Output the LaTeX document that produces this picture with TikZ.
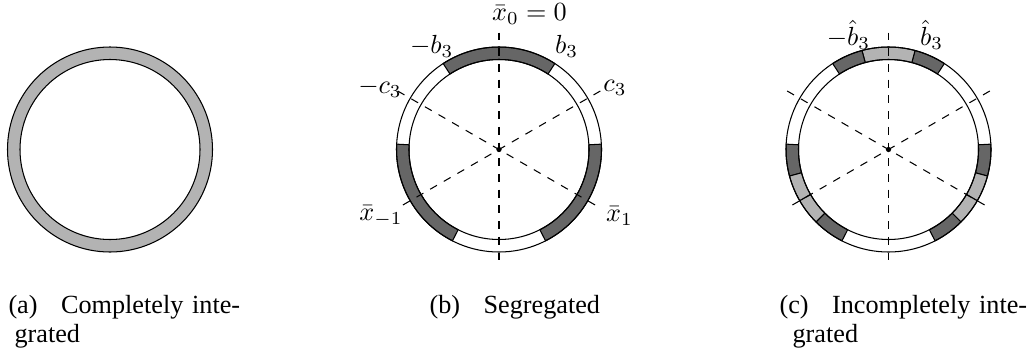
\documentclass[tikz,border=0pt]{standalone}
\usepackage{fontspec}
\setmainfont{Liberation Serif}
\usepackage{tikz}
\usepackage{xcolor}
\usepackage{amsmath}
\definecolor{ltgray}{HTML}{B3B3B3}
\definecolor{dkgray}{HTML}{666666}
\tikzset{
  ringseg/.style={draw=black,fill=#1},
  ringline/.style={draw=black},
  guide/.style={dashed,color=black},
  hub/.style={circle,fill=black,inner sep=0pt,minimum size=2pt},
  lbl/.style={inner sep=0pt,font=\normalsize},
  subcap/.style={inner sep=0pt,anchor=base west,align=left,text width=110pt,
                 font=\fontsize{10}{11.2}\selectfont},
}

\begin{document}
\begin{tikzpicture}[x=0.3817pt,y=0.3817pt]

  \useasboundingbox (0,0) rectangle (1027,356);

  %% ── (a) completely integrated ────────────────────────────────────────────
  \begin{scope}[shift={(110,206.5)}]
    \draw[ringseg=ltgray,even odd rule] (0,0) circle[radius=102.5]
                                        (0,0) circle[radius=90];
  \end{scope}

  %% ── (b) segregated ───────────────────────────────────────────────────────
  \begin{scope}[shift={(499,206.5)}]
    % dark segments
    \draw[ringseg=dkgray] (57:90) arc[start angle=57,end angle=123,radius=90]
      -- (123:102.5) arc[start angle=123,end angle=57,radius=102.5] -- cycle;
    \draw[ringseg=dkgray] (-63:90) arc[start angle=-63,end angle=3,radius=90]
      -- (3:102.5) arc[start angle=3,end angle=-63,radius=102.5] -- cycle;
    \draw[ringseg=dkgray] (177:90) arc[start angle=177,end angle=243,radius=90]
      -- (243:102.5) arc[start angle=243,end angle=177,radius=102.5] -- cycle;
    % ring outline
    \draw[ringline] (0,0) circle[radius=102.5];
    \draw[ringline] (0,0) circle[radius=90];
    % dashed guides
    \draw[guide] (90:117) -- (270:117);
    \draw[guide] (30:117) -- (210:117);
    \draw[guide] (150:117) -- (330:117);
    \node[hub] (hubb) at (0,0) {};
    % labels
    \node[lbl] (xzero) at (30.5,135) {$\bar{x}_0=0$};
    \node[lbl] (bthr)  at (67.7,103.5) {$b_3$};
    \node[lbl] (mbthr) at (-67.3,103.5) {$-b_3$};
    \node[lbl] (cthr)  at (116,61.5) {$c_3$};
    \node[lbl] (mcthr) at (-119,61.5) {$-c_3$};
    \node[lbl] (xone)  at (120.5,-66.5) {$\bar{x}_1$};
    \node[lbl] (xmone) at (-118,-66.5) {$\bar{x}_{-1}$};
  \end{scope}

  %% ── (c) incompletely integrated ──────────────────────────────────────────
  \begin{scope}[shift={(888.5,206.5)}]
    % top group
    \draw[ringseg=dkgray] (57:90) arc[start angle=57,end angle=75,radius=90]
      -- (75:102.5) arc[start angle=75,end angle=57,radius=102.5] -- cycle;
    \draw[ringseg=ltgray] (75:90) arc[start angle=75,end angle=105,radius=90]
      -- (105:102.5) arc[start angle=105,end angle=75,radius=102.5] -- cycle;
    \draw[ringseg=dkgray] (105:90) arc[start angle=105,end angle=123,radius=90]
      -- (123:102.5) arc[start angle=123,end angle=105,radius=102.5] -- cycle;
    % right group
    \draw[ringseg=dkgray] (-15:90) arc[start angle=-15,end angle=3,radius=90]
      -- (3:102.5) arc[start angle=3,end angle=-15,radius=102.5] -- cycle;
    \draw[ringseg=ltgray] (-30:90) arc[start angle=-30,end angle=-15,radius=90]
      -- (-15:102.5) arc[start angle=-15,end angle=-30,radius=102.5] -- cycle;
    \draw[ringseg=ltgray] (-45:90) arc[start angle=-45,end angle=-30,radius=90]
      -- (-30:102.5) arc[start angle=-30,end angle=-45,radius=102.5] -- cycle;
    \draw[ringseg=dkgray] (-63:90) arc[start angle=-63,end angle=-45,radius=90]
      -- (-45:102.5) arc[start angle=-45,end angle=-63,radius=102.5] -- cycle;
    % left group
    \draw[ringseg=dkgray] (177:90) arc[start angle=177,end angle=195,radius=90]
      -- (195:102.5) arc[start angle=195,end angle=177,radius=102.5] -- cycle;
    \draw[ringseg=ltgray] (195:90) arc[start angle=195,end angle=210,radius=90]
      -- (210:102.5) arc[start angle=210,end angle=195,radius=102.5] -- cycle;
    \draw[ringseg=ltgray] (210:90) arc[start angle=210,end angle=225,radius=90]
      -- (225:102.5) arc[start angle=225,end angle=210,radius=102.5] -- cycle;
    \draw[ringseg=dkgray] (225:90) arc[start angle=225,end angle=243,radius=90]
      -- (243:102.5) arc[start angle=243,end angle=225,radius=102.5] -- cycle;
    % ring outline
    \draw[ringline] (0,0) circle[radius=102.5];
    \draw[ringline] (0,0) circle[radius=90];
    % dashed guides
    \draw[guide] (90:117) -- (270:117);
    \draw[guide] (30:117) -- (210:117);
    \draw[guide] (150:117) -- (330:117);
    \node[hub] (hubc) at (0,0) {};
    % labels
    \node[lbl] (mbhat) at (-40,115) {$-\hat{b}_3$};
    \node[lbl] (bhat)  at (43,115) {$\hat{b}_3$};
  \end{scope}

  %% ── captions ─────────────────────────────────────────────────────────────
  \node[subcap] (capa) at (8,43)
    {(a)\hspace{0.9em}Completely inte-\\\hspace*{2.3pt}grated};
  \node[subcap] (capb) at (429,43) {(b)\hspace{0.9em}Segregated};
  \node[subcap] (capc) at (779,43)
    {(c)\hspace{0.9em}Incompletely inte-\\\hspace*{5pt}grated};

\end{tikzpicture}
\end{document}
